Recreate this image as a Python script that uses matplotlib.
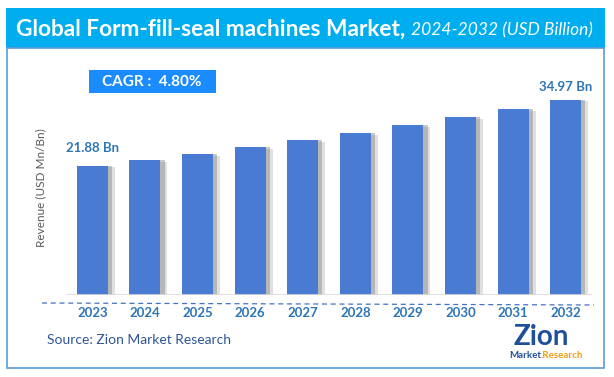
import matplotlib
matplotlib.use("Agg")
import matplotlib.pyplot as plt
import matplotlib.patheffects as pe
from matplotlib.patches import Rectangle
from matplotlib.lines import Line2D
import numpy as np

plt.rcParams['font.family'] = ['Lato', 'DejaVu Sans']

# data
years = ['2023', '2024', '2025', '2026', '2027', '2028', '2029', '2030', '2031', '2032']
revenue = [21.88, 23.06, 24.25, 25.64, 27.03, 28.42, 30.00, 31.59, 33.17, 34.97]
first_label = '21.88 Bn'
last_label = '34.97 Bn'
cagr_text = 'CAGR :  4.80%'

W, H = 614, 377
def fx(x):
    return x / W
def fy(y):
    return 1 - y / H

fig = plt.figure(figsize=(W / 100, H / 100), dpi=100)
r = fig.canvas.get_renderer()

# title bar + frame
fig.patches.append(Rectangle((fx(6), fy(48)), fx(599), 40 / H, transform=fig.transFigure,
                             facecolor='#00AEEF', edgecolor='none', zorder=0))
fig.patches.append(Rectangle((fx(7), fy(368)), fx(597), 320 / H, transform=fig.transFigure,
                             facecolor='none', edgecolor='#5B9BD5', lw=1.2, zorder=0))
t1 = fig.text(fx(16), fy(29), 'Global Form-fill-seal machines Market,', color='white',
              fontsize=16.3, fontweight='bold', va='center', ha='left')
x_end = t1.get_window_extent(r).x1
fig.text(x_end / W + fx(6), fy(30), '2024-2032 (USD Billion)', color='white',
         fontsize=12.5, style='italic', va='center', ha='left')

# bars
base = -3.7
ax = fig.add_axes([fx(66), fy(295), fx(526), 215 / H])
x = np.arange(len(years))
vals = np.array(revenue)
bars = ax.bar(x, vals - base, bottom=base, width=0.59, color='#4A7BD3', zorder=3)
for b in bars:
    b.set_path_effects([pe.SimplePatchShadow(offset=(5, -1), shadow_rgbFace='#999999', alpha=0.3),
                        pe.SimplePatchShadow(offset=(3, 0), shadow_rgbFace='#777777', alpha=0.4),
                        pe.Normal()])
ax.set_xlim(-0.5, len(years) - 0.5)
ax.set_ylim(base, base + 215 / 5.04)
for s in ax.spines.values():
    s.set_visible(False)
ax.axhline(base, color='#D9D9D9', lw=1.2, zorder=4)
ax.set_yticks([])
ax.set_xticks(x)
ax.set_xticklabels(years, fontsize=9.5, fontweight='bold', color='#2E75B6')
ax.tick_params(axis='x', length=0, pad=8.5)
ax.annotate(first_label, (x[0], vals[0]), xytext=(0, 9), textcoords='offset points',
            ha='center', va='bottom', fontsize=9.5, fontweight='bold', color='#2E75B6')
ax.annotate(last_label, (x[-1], vals[-1]), xytext=(0, 5), textcoords='offset points',
            ha='center', va='bottom', fontsize=9.5, fontweight='bold', color='#2E75B6')
ax.set_ylabel('Revenue (USD Mn/Bn)', fontsize=8.5, color='#595959', labelpad=14)

# dashed line under bars
fig.lines.append(Line2D([fx(42), fx(594)], [fy(303), fy(305)], transform=fig.transFigure,
                        color='#4472C4', lw=0.9, ls=(0, (4, 3))))

# CAGR box
fig.patches.append(Rectangle((fx(89), fy(93)), fx(127), 23 / H, transform=fig.transFigure,
                             facecolor='#1A8CFF', edgecolor='none'))
fig.text(fx(152), fy(81.5), cagr_text, color='white', fontsize=11, fontweight='bold',
         ha='center', va='center')

# source
fig.text(fx(47), fy(340), 'Source: Zion Market Research', color='#2F5597', fontsize=10,
         ha='left', va='center')

# logo
fig.text(fx(541), fy(337), 'Zion', color='#1F4E9A', fontsize=20, fontweight='bold',
         ha='center', va='center')
m = fig.text(fx(509), fy(356), 'Market', color='#1F4E9A', fontsize=7, fontweight='bold',
             ha='left', va='center')
fig.text(m.get_window_extent(r).x1 / W, fy(356), '.Research', color='#F39C12', fontsize=7,
         fontweight='bold', ha='left', va='center')

fig.savefig('out.png', dpi=100)
